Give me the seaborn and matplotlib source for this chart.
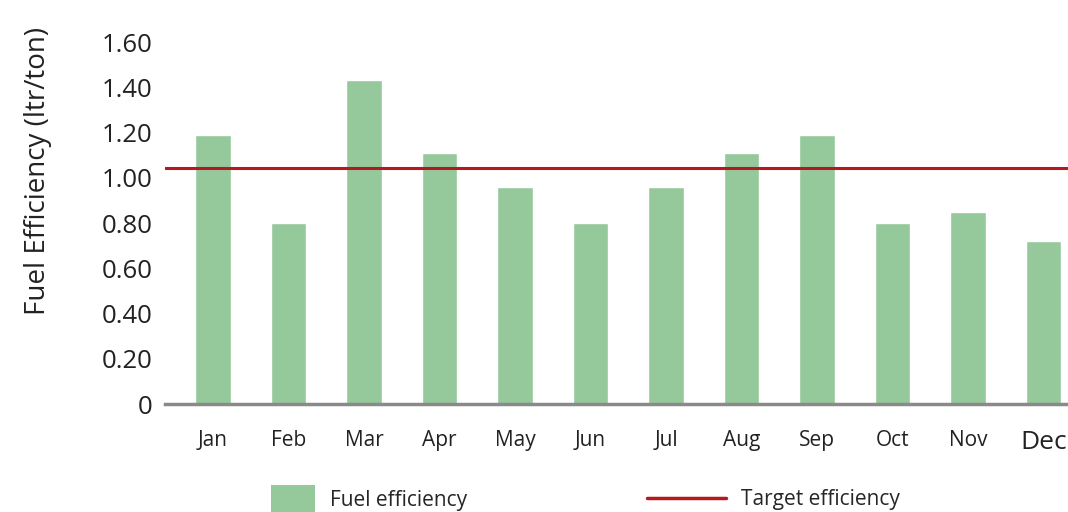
import matplotlib
matplotlib.use("Agg")
import matplotlib.pyplot as plt
import seaborn as sns
import pandas as pd
from matplotlib.patches import Patch
from matplotlib.lines import Line2D

# data
months = ["Jan", "Feb", "Mar", "Apr", "May", "Jun", "Jul", "Aug", "Sep", "Oct", "Nov", "Dec"]
fuel_eff = [1.19, 0.80, 1.43, 1.11, 0.96, 0.80, 0.96, 1.11, 1.19, 0.80, 0.85, 0.72]
target_eff = 1.045
y_ticks = [0, 0.2, 0.4, 0.6, 0.8, 1.0, 1.2, 1.4, 1.6]

df = pd.DataFrame({"Month": months, "Fuel efficiency": fuel_eff})

sns.set_style("white")
plt.rcParams["font.family"] = ["Open Sans", "DejaVu Sans"]

green = "#95c99c"
red = "#b5191f"
txt = "#222222"

fig = plt.figure(figsize=(10.68, 5.12), dpi=100)
ax = fig.add_axes([0.1545, 0.2109, 0.858, 0.707])

sns.barplot(data=df, x="Month", y="Fuel efficiency", color=green, width=0.47,
            saturation=1, ax=ax)
ax.axhline(target_eff, color=red, lw=2.2, zorder=3)

ax.set_xlim(-0.636, 11.5)
ax.set_ylim(0, 1.6)
ax.set_yticks(y_ticks)
ax.set_yticklabels(["0" if v == 0 else f"{v:.2f}" for v in y_ticks], fontsize=18.5, color=txt)
ax.tick_params(axis="y", length=0, pad=9)
ax.tick_params(axis="x", length=0, pad=19, labelsize=15, labelcolor=txt)
for lbl in ax.get_xticklabels():
    if lbl.get_text() == "Dec":
        lbl.set_fontsize(19)
ax.set_xlabel("")
ax.set_ylabel("Fuel Efficiency (ltr/ton)", fontsize=20, color=txt)
ax.yaxis.set_label_coords(-0.1235, 0.644)

for s in ["top", "right", "left"]:
    ax.spines[s].set_visible(False)
ax.spines["bottom"].set_color("#8a8a8a")
ax.spines["bottom"].set_linewidth(2.5)
ax.spines["bottom"].set_zorder(4)

leg1 = fig.legend(handles=[Patch(facecolor=green, edgecolor="none", label="Fuel efficiency")],
                  loc="upper left", bbox_to_anchor=(0.254, 0.052), frameon=False,
                  fontsize=15, handlelength=2.1, handleheight=1.6, handletextpad=0.7,
                  borderpad=0, borderaxespad=0)
leg2 = fig.legend(handles=[Line2D([], [], color=red, lw=2.5, label="Target efficiency")],
                  loc="upper left", bbox_to_anchor=(0.606, 0.044), frameon=False,
                  fontsize=15, handlelength=3.8, handletextpad=0.7,
                  borderpad=0, borderaxespad=0)

fig.savefig("out.png", dpi=100)
